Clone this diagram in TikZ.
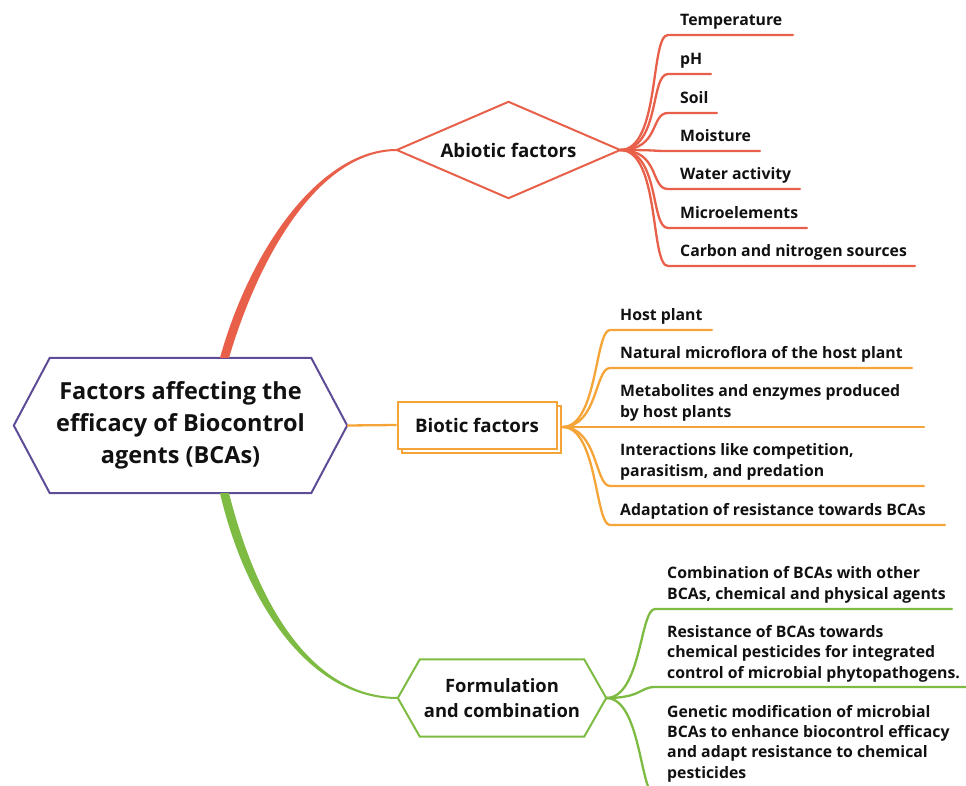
\documentclass[tikz,border=0pt]{standalone}
\usepackage{fontspec}
\setmainfont{Open Sans}
\usetikzlibrary{shadows,calc}
\definecolor{cR}{HTML}{E8604A}
\definecolor{cO}{HTML}{F5A437}
\definecolor{cG}{HTML}{7DBB42}
\definecolor{cP}{HTML}{5E4C96}
\definecolor{cT}{HTML}{111111}
\begin{document}
\begin{tikzpicture}[x=1pt,y=-1pt,
  leaftext/.style={anchor=base west, inner sep=0pt, align=left, text=cT,
    font=\fontsize{15.8}{20.3}\selectfont\bfseries},
  leafline/.style={line width=2.3pt, line cap=round},
  maintext/.style={inner sep=0pt, align=center, text=cT}]
\useasboundingbox (0,0) rectangle (966,786);

% central hexagon
\node[maintext, minimum width=333pt, minimum height=135pt,
  font=\fontsize{23.5}{32}\selectfont\bfseries] (c) at (180.5,425.5)
  {Factors affecting the\\efficacy of Biocontrol\\agents (BCAs)};
\draw[cP, line width=2pt] (c.west) -- ([xshift=36pt]c.north west) -- ([xshift=-36pt]c.north east)
  -- (c.east) -- ([xshift=-36pt]c.south east) -- ([xshift=36pt]c.south west) -- cycle;

% abiotic diamond
\node[maintext, minimum width=223pt, minimum height=96pt,
  font=\fontsize{18.7}{22}\selectfont\bfseries] (ab) at (508.5,150) {Abiotic factors};
\draw[cR, line width=2pt] (ab.west) -- (ab.north) -- (ab.east) -- (ab.south) -- cycle;

% biotic box
\node[draw=cO, line width=2pt, fill=white, minimum width=159pt, minimum height=47pt,
  copy shadow={shadow xshift=4pt, shadow yshift=-4pt}, text=cT,
  font=\fontsize{18.7}{22}\selectfont\bfseries] (bi) at (477,425) {Biotic factors};

% formulation hexagon
\node[maintext, minimum width=208pt, minimum height=77pt,
  font=\fontsize{18.4}{25}\selectfont\bfseries] (fo) at (502,698)
  {Formulation\\and combination};
\draw[cG, line width=2pt] (fo.west) -- ([xshift=22pt]fo.north west) -- ([xshift=-22pt]fo.north east)
  -- (fo.east) -- ([xshift=-22pt]fo.south east) -- ([xshift=22pt]fo.south west) -- cycle;

% main branches (tapered)
\coordinate (rs) at ([xshift=44pt]c.north);
\fill[cR] ([xshift=-4.5pt]rs) .. controls +(30,-108) and +(-77,0) .. ([yshift=1pt]ab.west)
  -- ([yshift=-1pt]ab.west) .. controls +(-75,0) and +(32,-108) .. ([xshift=4.5pt]rs) -- cycle;

\coordinate (gs) at ([xshift=44pt]c.south);
\fill[cG] ([xshift=-4.5pt]gs) .. controls +(25,107) and +(-90,0) .. ([yshift=-1pt]fo.west)
  -- ([yshift=1pt]fo.west) .. controls +(-88,0) and +(27,107) .. ([xshift=4.5pt]gs) -- cycle;

\draw[cO, line width=2.3pt] (c.east) -- (bi.west);

% abiotic leaves
\foreach \i/\ly/\ex/\txt in {1/35/793/Temperature, 2/74/711/pH, 3/113/717/Soil,
    4/151/760/Moisture, 5/189/800/Water activity, 6/228/807/Microelements,
    7/266/915/Carbon and nitrogen sources}{
  \node[leaftext] (a\i) at (680,\ly-9.5) {\txt};
  \coordinate (ah\i) at (668,\ly);
  \coordinate (ae\i) at (\ex,\ly);
  \draw[leafline, cR] (ab.east) .. controls +(40,0) and +(-18,0) .. (ah\i) -- (ae\i);
}

% biotic leaves
\coordinate (bj) at ([xshift=5pt,yshift=-2pt]bi.east);
\foreach \i/\ly/\ex/\txt in {1/330/712/{Host plant},
    2/368/912/{Natural microflora of the host plant},
    3/427/924/{Metabolites and enzymes produced\\by host plants},
    4/486/924/{Interactions like competition,\\parasitism, and predation},
    5/525/945/{Adaptation of resistance towards BCAs}}{
  \node[leaftext] (b\i) at (620,\ly-10) {\txt};
  \coordinate (bh\i) at (610,\ly);
  \coordinate (be\i) at (\ex,\ly);
  \draw[leafline, cO] (bj) .. controls +(35,0) and +(-15,0) .. (bh\i) -- (be\i);
}

% formulation leaves
\foreach \i/\ly/\ty/\ex/\txt in {1/609/599/952/{Combination of BCAs with other\\BCAs, chemical and physical agents},
    2/687/678/966/{Resistance of BCAs towards\\chemical pesticides for integrated\\control of microbial phytopathogens.},
    3/795/778/966/{Genetic modification of microbial\\BCAs to enhance biocontrol efficacy\\and adapt resistance to chemical\\pesticides}}{
  \node[leaftext] (g\i) at (667,\ty) {\txt};
  \coordinate (gh\i) at (655,\ly);
  \coordinate (ge\i) at (\ex,\ly);
  \draw[leafline, cG] (fo.east) .. controls +(35,0) and +(-15,0) .. (gh\i) -- (ge\i);
}
\end{tikzpicture}
\end{document}
